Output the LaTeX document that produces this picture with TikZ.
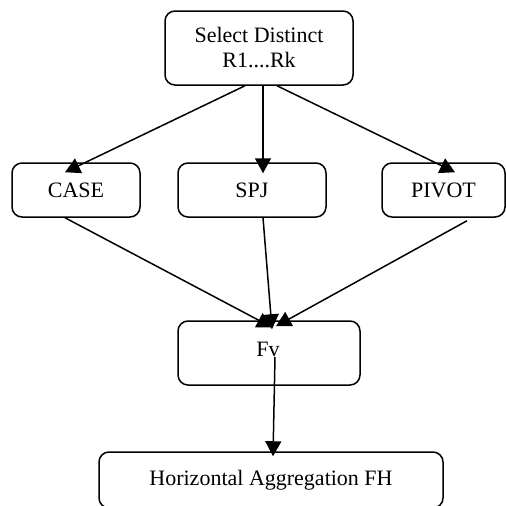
\documentclass[tikz,border=0pt]{standalone}
\usepackage{fontspec}
\setmainfont{Liberation Serif}
\usetikzlibrary{arrows.meta}
\begin{document}
\begin{tikzpicture}[x=1pt,y=-1pt,
  box/.style={draw=black,line width=1.5pt,rounded corners=10pt,fill=white,rectangle,inner sep=0pt,
    font=\fontsize{22}{25}\selectfont,align=center},
  arr/.style={draw=black,line width=1.5pt,-{Triangle[length=15pt,width=16pt]}}]
\useasboundingbox (0,0) rectangle (506,506);
\fill[white] (0,0) rectangle (506,506);
\node[box,minimum width=188pt,minimum height=74pt] (top) at (259,48) {Select Distinct\\R1....Rk};
\node[box,minimum width=128pt,minimum height=54pt] (case) at (76,190) {CASE};
\node[box,minimum width=148pt,minimum height=54pt] (spj) at (252,190) {SPJ};
\node[box,minimum width=123pt,minimum height=54pt] (pivot) at (443.5,190) {PIVOT};
\node[box,minimum width=182pt,minimum height=64pt] (fv) at (269,353) {};
\node[font=\fontsize{22}{25}\selectfont,inner sep=0pt] (fvt) at (268,349) {Fv};
\node[box,minimum width=344pt,minimum height=56pt] (fh) at (271,480) {Horizontal Aggregation FH};
\draw[arr] ([xshift=-14pt]top.south) -- ([xshift=-11pt,yshift=-10pt]case.north);
\draw[arr] ([xshift=4pt]top.south) -- ([xshift=11pt,yshift=-11pt]spj.north);
\draw[arr] ([xshift=18pt]top.south) -- ([xshift=11.5pt,yshift=-10pt]pivot.north);
\draw[arr] ([xshift=-11pt]case.south) -- ([xshift=3pt,yshift=-7pt]fv.north);
\draw[arr] ([xshift=11pt]spj.south) -- ([xshift=3pt,yshift=-9pt]fv.north);
\draw[arr] ([xshift=23.5pt,yshift=-3pt]pivot.south) -- ([xshift=7pt,yshift=-6pt]fv.north);
\draw[arr] ([xshift=6pt,yshift=-4pt]fv.center) -- ([xshift=2pt,yshift=-5pt]fh.north);
\end{tikzpicture}
\end{document}
